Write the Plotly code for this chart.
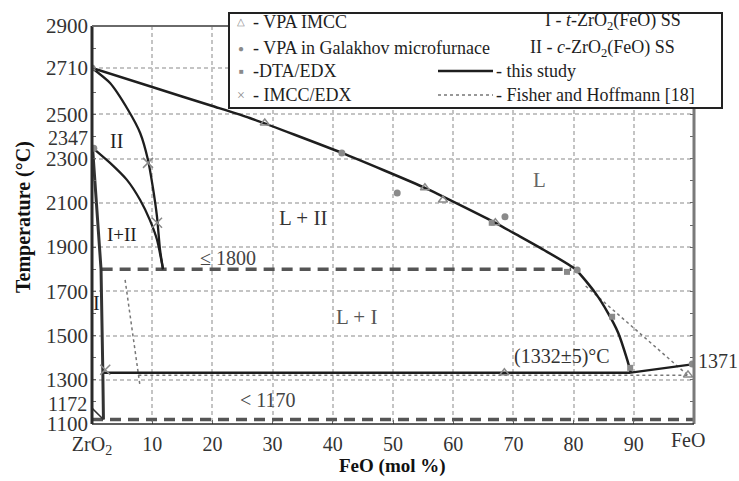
import plotly.graph_objects as go

# ---------------- data ----------------
liq_x = [0, 10, 20, 26.2, 41.5, 55.3, 67, 70, 75, 80.3, 83.6, 85.7, 87.4, 88.9, 89.5]
liq_T = [2710, 2624, 2538, 2484, 2326, 2168, 2010, 1964, 1888, 1800, 1693, 1603, 1513, 1391, 1332]
feo_liq_x = [89.5, 100]
feo_liq_T = [1332, 1371]
eut_x = [1.9, 89.5]
eut_T = [1332, 1332]
solII_x = [0, 3.0, 6.0, 8.0, 9.3, 10.1, 10.8, 11.3, 11.8]
solII_T = [2710, 2642, 2520, 2416, 2294, 2172, 2037, 1888, 1800]
bndII_x = [0.2, 3.0, 5.8, 8.0, 9.6, 10.8, 11.8]
bndII_T = [2347, 2281, 2204, 2113, 2023, 1933, 1800]
solvI_x = [0.1, 1.5, 1.8, 1.9]
solvI_T = [2347, 1800, 1332, 1120]
eutectoid_x = [0, 1.9]
eutectoid_T = [1172, 1120]
dash1800_x = [1.6, 79.6]
dash1800_T = [1800, 1800]
dash1170_x = [0, 100]
dash1170_T = [1120, 1120]
fh_solv_x = [5.5, 8.0]
fh_solv_T = [1752, 1268]
fh_eut_x = [7.7, 99]
fh_eut_T = [1320, 1320]
fh_liq_x = [82, 99]
fh_liq_T = [1724, 1320]

vpa_imcc_x = [28.7, 55.3, 58.3, 67.0, 68.5, 99.0]
vpa_imcc_T = [2461, 2168, 2113, 2010, 1332, 1322]
galakhov_x = [0, 0.3, 41.5, 50.7, 68.6, 80.6, 99.7]
galakhov_T = [2710, 2347, 2326, 2145, 2037, 1797, 1371]
dta_x = [66.4, 78.9, 86.4, 89.4]
dta_T = [2010, 1788, 1585, 1354]
imcc_edx_x = [9.3, 10.8, 2.2]
imcc_edx_T = [2281, 2010, 1345]

x_tickvals = [0, 10, 20, 30, 40, 50, 60, 70, 80, 90]
x_ticktext = ["ZrO<sub>2</sub>", "10", "20", "30", "40", "50", "60", "70", "80", "90"]
y_tickvals = [1100, 1300, 1500, 1700, 1900, 2100, 2300, 2500, 2710, 2900]
y_ticktext = ["1100", "1300", "1500", "1700", "1900", "2100", "2300", "2500", "2710", "2900"]

SERIF = "Liberation Serif, Times New Roman, serif"
DARK = "#1e1e1e"
GREY = "#8a8a8a"

fig = go.Figure()


def line(x, y, color=DARK, width=2.5, dash="solid", shape="linear", smoothing=None):
    ln = dict(color=color, width=width, dash=dash, shape=shape)
    if smoothing is not None:
        ln["smoothing"] = smoothing
    fig.add_trace(go.Scatter(x=x, y=y, mode="lines", line=ln, hoverinfo="skip", showlegend=False))


# dashed reference lines
line(dash1800_x, dash1800_T, color="#555555", width=3.5, dash="11px,7px")
line(dash1170_x, dash1170_T, color="#555555", width=3.5, dash="11px,7px")
# Fisher & Hoffmann (dotted)
line(fh_solv_x, fh_solv_T, color="#777777", width=1.5, dash="dot")
line(fh_eut_x, fh_eut_T, color="#777777", width=1.5, dash="dot")
line(fh_liq_x, fh_liq_T, color="#777777", width=1.5, dash="dot")
# this study
line(liq_x, liq_T, width=2.5, shape="spline", smoothing=0.5)
line(feo_liq_x, feo_liq_T, width=2.2)
line(eut_x, eut_T, width=2.5)
line(solII_x, solII_T, width=2.3, shape="spline", smoothing=0.6)
line(bndII_x, bndII_T, width=2.3, shape="spline", smoothing=0.6)
line(solvI_x, solvI_T, color="#333333", width=3)
line(eutectoid_x, eutectoid_T, color="#333333", width=1.5)

# experimental points
fig.add_trace(go.Scatter(x=vpa_imcc_x, y=vpa_imcc_T, mode="markers", showlegend=False,
                         marker=dict(symbol="triangle-up-open", size=8, color=GREY, line=dict(width=1.5))))
fig.add_trace(go.Scatter(x=galakhov_x, y=galakhov_T, mode="markers", showlegend=False,
                         marker=dict(symbol="circle", size=7, color=GREY)))
fig.add_trace(go.Scatter(x=dta_x, y=dta_T, mode="markers", showlegend=False,
                         marker=dict(symbol="square", size=6, color=GREY)))
fig.add_trace(go.Scatter(x=imcc_edx_x, y=imcc_edx_T, mode="markers", showlegend=False,
                         marker=dict(symbol="x-thin-open", size=10, color=GREY, line=dict(width=1.5, color=GREY))))


def px_x(p):
    return (p - 92) / 602


def px_y(p):
    return (424 - p) / 398


shapes = [
    # frame
    dict(type="line", xref="paper", yref="paper", x0=0, x1=0, y0=0, y1=1, line=dict(color="#2a2a2a", width=3)),
    dict(type="line", xref="paper", yref="paper", x0=1, x1=1, y0=0, y1=1, line=dict(color="#7a7a7a", width=3)),
    dict(type="line", xref="paper", yref="paper", x0=0, x1=1, y0=1, y1=1, line=dict(color="#6a6a6a", width=2)),
    dict(type="line", xref="paper", yref="paper", x0=0, x1=1, y0=0, y1=0, line=dict(color="#2a2a2a", width=1.5)),
    # legend box
    dict(type="rect", xref="paper", yref="paper", layer="above",
         x0=px_x(229), x1=px_x(722), y0=px_y(108), y1=px_y(13),
         fillcolor="white", line=dict(color="#222222", width=2)),
    dict(type="line", xref="paper", yref="paper", layer="above",
         x0=px_x(438), x1=px_x(493), y0=px_y(71), y1=px_y(71), line=dict(color=DARK, width=2.5)),
    dict(type="line", xref="paper", yref="paper", layer="above",
         x0=px_x(438), x1=px_x(493), y0=px_y(95), y1=px_y(95), line=dict(color="#777777", width=1.5, dash="dot")),
]

annotations = []


def txt(x, y, s, size=20, color=DARK, xanchor="center", xref="x", yref="y", **kw):
    annotations.append(dict(x=x, y=y, xref=xref, yref=yref, text=s, showarrow=False,
                            xanchor=xanchor, yanchor="middle",
                            font=dict(family=SERIF, size=size, color=color), **kw))


# region labels
txt(4.0, 2380, "II", 20)
txt(5.0, 1955, "I+II", 19)
txt(0.8, 1648, "I", 20)
txt(35, 2032, "L + II", 21, "#333333")
txt(44, 1585, "L + I", 21, "#555555")
txt(74.4, 2204, "L", 21, "#666666")
txt(22.6, 1851, "≤ 1800", 20, "#444444")
txt(29.3, 1210, "< 1170", 20, "#444444")
txt(78.1, 1404, "(1332±5)°C", 20, "#333333")
# labels outside the plotting range (paper coordinates)
txt(px_x(696), px_y(361), "1371", 20, "#333333", xanchor="left", xref="paper", yref="paper")
txt(px_x(90), px_y(138), "2347", 20, "#333333", xanchor="right", xref="paper", yref="paper")
txt(px_x(89), px_y(404), "1172", 20, "#333333", xanchor="right", xref="paper", yref="paper")
txt(px_x(688), px_y(440), "FeO", 20, "#333333", xref="paper", yref="paper")

# axis titles
annotations.append(dict(x=px_x(23), y=px_y(217), xref="paper", yref="paper", text="Temperature (°C)",
                        showarrow=False, textangle=-90, xanchor="center", yanchor="middle",
                        font=dict(family=SERIF, size=20, color="#111111", weight="bold")))
annotations.append(dict(x=px_x(392), y=px_y(466), xref="paper", yref="paper", text="FeO (mol %)",
                        showarrow=False, xanchor="center", yanchor="middle",
                        font=dict(family=SERIF, size=19, color="#111111", weight="bold")))

# legend contents
rows = [22, 48, 71, 95]
txt(px_x(241), px_y(rows[0]), "△", 10, GREY, xref="paper", yref="paper")
txt(px_x(241), px_y(rows[1]), "●", 10, GREY, xref="paper", yref="paper")
txt(px_x(241), px_y(rows[2]), "■", 8, GREY, xref="paper", yref="paper")
txt(px_x(241), px_y(rows[3]), "×", 14, GREY, xref="paper", yref="paper")
txt(px_x(251), px_y(rows[0]), "- VPA IMCC", 18, xanchor="left", xref="paper", yref="paper")
txt(px_x(251), px_y(rows[1]), "- VPA in Galakhov microfurnace", 18, xanchor="left", xref="paper", yref="paper")
txt(px_x(251), px_y(rows[2]), "-DTA/EDX", 18, xanchor="left", xref="paper", yref="paper")
txt(px_x(251), px_y(rows[3]), "- IMCC/EDX", 18, xanchor="left", xref="paper", yref="paper")
txt(px_x(543), px_y(rows[0]), "I - <i>t</i>-ZrO<sub>2</sub>(FeO) SS", 18, xanchor="left", xref="paper", yref="paper")
txt(px_x(528), px_y(rows[1]), "II - <i>c</i>-ZrO<sub>2</sub>(FeO) SS", 18, xanchor="left", xref="paper", yref="paper")
txt(px_x(494), px_y(rows[2]), "- this study", 18, xanchor="left", xref="paper", yref="paper")
txt(px_x(494), px_y(rows[3]), "- Fisher and Hoffmann [18]", 18, xanchor="left", xref="paper", yref="paper")

fig.update_layout(
    width=739, height=481,
    margin=dict(l=92, r=45, t=26, b=57),
    paper_bgcolor="white", plot_bgcolor="white",
    showlegend=False,
    shapes=shapes, annotations=annotations,
    font=dict(family=SERIF, color="#333333"),
)
fig.update_xaxes(range=[0, 100], tickvals=x_tickvals, ticktext=x_ticktext,
                 showgrid=True, gridcolor="#c4c4c4", gridwidth=2, griddash="4px,3px",
                 zeroline=False, showline=False, ticks="inside", ticklen=4, tickcolor="#666666",
                 tickfont=dict(family=SERIF, size=20, color="#333333"), ticklabelstandoff=6)
fig.update_yaxes(range=[1100, 2900], tickvals=y_tickvals, ticktext=y_ticktext,
                 showgrid=True, gridcolor="#c4c4c4", gridwidth=2, griddash="4px,3px",
                 zeroline=False, showline=False, ticks="inside", ticklen=4, tickcolor="#666666",
                 mirror="ticks",
                 minor=dict(dtick=100, tick0=1100, ticks="inside", ticklen=4, tickcolor="#666666", showgrid=False),
                 tickfont=dict(family=SERIF, size=21, color="#333333"), ticklabelstandoff=3)

fig.write_html("out.html", config={"displayModeBar": False},
               post_script="document.body.style.margin='0';document.body.style.padding='0';")
